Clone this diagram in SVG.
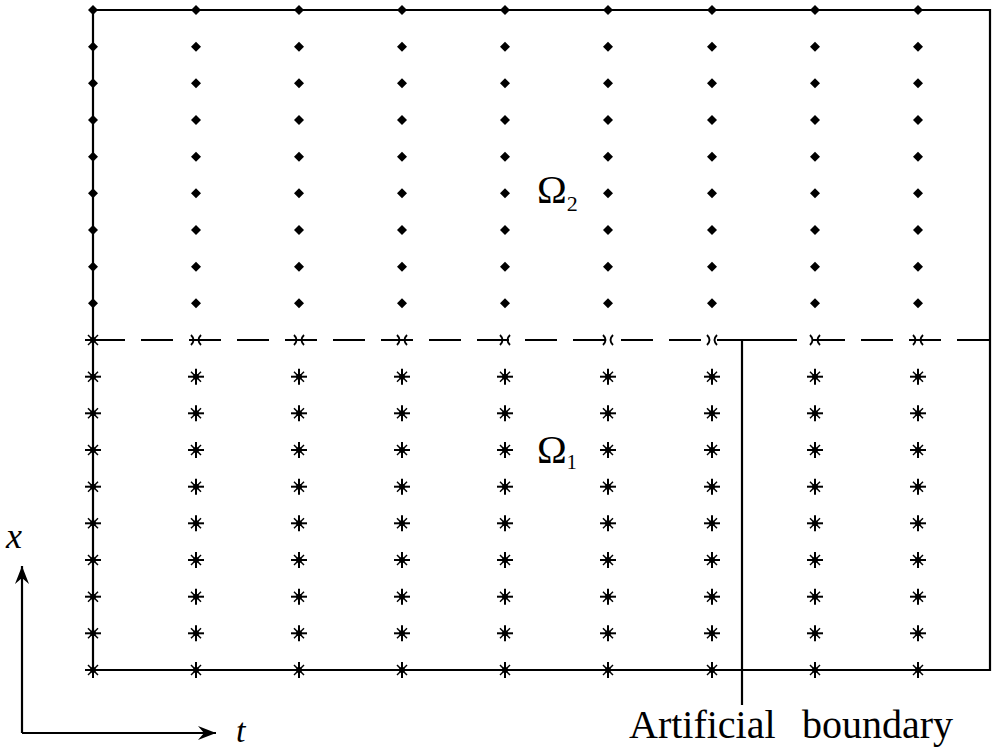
<svg xmlns="http://www.w3.org/2000/svg" width="996" height="752" viewBox="0 0 996 752">
<defs>
<style>
.ln{fill:none;stroke:#000;stroke-width:2.2}
.dash{fill:none;stroke:#000;stroke-width:2.2;stroke-dasharray:32 16}
.t{font-family:"Liberation Serif","Times New Roman",serif;fill:#000}
</style>
<path id="dia" d="M0,-5 L5,0 L0,5 L-5,0 Z" fill="#000"/>
<g id="ast" stroke="#000" stroke-width="2" fill="none">
<line x1="-8" y1="0" x2="8" y2="0"/>
<line x1="0" y1="-8" x2="0" y2="8"/>
<line x1="-5" y1="-5" x2="5" y2="5" stroke-width="1.5"/>
<line x1="-5" y1="5" x2="5" y2="-5" stroke-width="1.5"/>
<circle r="3" fill="#000" stroke="none"/>
</g>
<g id="xm" stroke="#000" stroke-width="1.8" fill="none">
<path d="M-5,-5 Q0,0 -5,5 M5,-5 Q0,0 5,5"/>
</g>
<marker id="arr" markerWidth="22" markerHeight="16" refX="18" refY="8" orient="auto" markerUnits="userSpaceOnUse">
<path d="M0,1 L18,8 L0,15 L6,8 Z" fill="#000"/>
</marker>
</defs>
<rect width="996" height="752" fill="#fff"/>
<g id="connectors">
<path class="ln" d="M93,10 H990 V670 H93 Z"/>
<line class="dash" x1="93" y1="340" x2="990" y2="340"/>
<path class="ln" d="M742,705 V340 H783"/>
<line class="ln" x1="22" y1="733" x2="22" y2="566" marker-end="url(#arr)"/>
<line class="ln" x1="22" y1="733" x2="216" y2="733" marker-end="url(#arr)"/>
</g>
<g id="grid-upper">
<use href="#dia" x="93" y="10"/><use href="#dia" x="196" y="10"/><use href="#dia" x="299" y="10"/><use href="#dia" x="402" y="10"/><use href="#dia" x="505" y="10"/><use href="#dia" x="608" y="10"/><use href="#dia" x="712" y="10"/><use href="#dia" x="815" y="10"/><use href="#dia" x="918" y="10"/>
<use href="#dia" x="93" y="46.7"/><use href="#dia" x="196" y="46.7"/><use href="#dia" x="299" y="46.7"/><use href="#dia" x="402" y="46.7"/><use href="#dia" x="505" y="46.7"/><use href="#dia" x="608" y="46.7"/><use href="#dia" x="712" y="46.7"/><use href="#dia" x="815" y="46.7"/><use href="#dia" x="918" y="46.7"/>
<use href="#dia" x="93" y="83.3"/><use href="#dia" x="196" y="83.3"/><use href="#dia" x="299" y="83.3"/><use href="#dia" x="402" y="83.3"/><use href="#dia" x="505" y="83.3"/><use href="#dia" x="608" y="83.3"/><use href="#dia" x="712" y="83.3"/><use href="#dia" x="815" y="83.3"/><use href="#dia" x="918" y="83.3"/>
<use href="#dia" x="93" y="120"/><use href="#dia" x="196" y="120"/><use href="#dia" x="299" y="120"/><use href="#dia" x="402" y="120"/><use href="#dia" x="505" y="120"/><use href="#dia" x="608" y="120"/><use href="#dia" x="712" y="120"/><use href="#dia" x="815" y="120"/><use href="#dia" x="918" y="120"/>
<use href="#dia" x="93" y="156.7"/><use href="#dia" x="196" y="156.7"/><use href="#dia" x="299" y="156.7"/><use href="#dia" x="402" y="156.7"/><use href="#dia" x="505" y="156.7"/><use href="#dia" x="608" y="156.7"/><use href="#dia" x="712" y="156.7"/><use href="#dia" x="815" y="156.7"/><use href="#dia" x="918" y="156.7"/>
<use href="#dia" x="93" y="193.3"/><use href="#dia" x="196" y="193.3"/><use href="#dia" x="299" y="193.3"/><use href="#dia" x="402" y="193.3"/><use href="#dia" x="505" y="193.3"/><use href="#dia" x="608" y="193.3"/><use href="#dia" x="712" y="193.3"/><use href="#dia" x="815" y="193.3"/><use href="#dia" x="918" y="193.3"/>
<use href="#dia" x="93" y="230"/><use href="#dia" x="196" y="230"/><use href="#dia" x="299" y="230"/><use href="#dia" x="402" y="230"/><use href="#dia" x="505" y="230"/><use href="#dia" x="608" y="230"/><use href="#dia" x="712" y="230"/><use href="#dia" x="815" y="230"/><use href="#dia" x="918" y="230"/>
<use href="#dia" x="93" y="266.7"/><use href="#dia" x="196" y="266.7"/><use href="#dia" x="299" y="266.7"/><use href="#dia" x="402" y="266.7"/><use href="#dia" x="505" y="266.7"/><use href="#dia" x="608" y="266.7"/><use href="#dia" x="712" y="266.7"/><use href="#dia" x="815" y="266.7"/><use href="#dia" x="918" y="266.7"/>
<use href="#dia" x="93" y="303.3"/><use href="#dia" x="196" y="303.3"/><use href="#dia" x="299" y="303.3"/><use href="#dia" x="402" y="303.3"/><use href="#dia" x="505" y="303.3"/><use href="#dia" x="608" y="303.3"/><use href="#dia" x="712" y="303.3"/><use href="#dia" x="815" y="303.3"/><use href="#dia" x="918" y="303.3"/>
</g>
<g id="grid-interface">
<use href="#ast" x="93" y="340"/><use href="#xm" x="196" y="340"/><use href="#xm" x="299" y="340"/><use href="#xm" x="402" y="340"/><use href="#xm" x="505" y="340"/><use href="#xm" x="608" y="340"/><use href="#xm" x="712" y="340"/><use href="#xm" x="815" y="340"/><use href="#xm" x="918" y="340"/>
</g>
<g id="grid-lower">
<use href="#ast" x="93" y="376.7"/><use href="#ast" x="196" y="376.7"/><use href="#ast" x="299" y="376.7"/><use href="#ast" x="402" y="376.7"/><use href="#ast" x="505" y="376.7"/><use href="#ast" x="608" y="376.7"/><use href="#ast" x="712" y="376.7"/><use href="#ast" x="815" y="376.7"/><use href="#ast" x="918" y="376.7"/>
<use href="#ast" x="93" y="413.3"/><use href="#ast" x="196" y="413.3"/><use href="#ast" x="299" y="413.3"/><use href="#ast" x="402" y="413.3"/><use href="#ast" x="505" y="413.3"/><use href="#ast" x="608" y="413.3"/><use href="#ast" x="712" y="413.3"/><use href="#ast" x="815" y="413.3"/><use href="#ast" x="918" y="413.3"/>
<use href="#ast" x="93" y="450"/><use href="#ast" x="196" y="450"/><use href="#ast" x="299" y="450"/><use href="#ast" x="402" y="450"/><use href="#ast" x="505" y="450"/><use href="#ast" x="608" y="450"/><use href="#ast" x="712" y="450"/><use href="#ast" x="815" y="450"/><use href="#ast" x="918" y="450"/>
<use href="#ast" x="93" y="486.7"/><use href="#ast" x="196" y="486.7"/><use href="#ast" x="299" y="486.7"/><use href="#ast" x="402" y="486.7"/><use href="#ast" x="505" y="486.7"/><use href="#ast" x="608" y="486.7"/><use href="#ast" x="712" y="486.7"/><use href="#ast" x="815" y="486.7"/><use href="#ast" x="918" y="486.7"/>
<use href="#ast" x="93" y="523.3"/><use href="#ast" x="196" y="523.3"/><use href="#ast" x="299" y="523.3"/><use href="#ast" x="402" y="523.3"/><use href="#ast" x="505" y="523.3"/><use href="#ast" x="608" y="523.3"/><use href="#ast" x="712" y="523.3"/><use href="#ast" x="815" y="523.3"/><use href="#ast" x="918" y="523.3"/>
<use href="#ast" x="93" y="560"/><use href="#ast" x="196" y="560"/><use href="#ast" x="299" y="560"/><use href="#ast" x="402" y="560"/><use href="#ast" x="505" y="560"/><use href="#ast" x="608" y="560"/><use href="#ast" x="712" y="560"/><use href="#ast" x="815" y="560"/><use href="#ast" x="918" y="560"/>
<use href="#ast" x="93" y="596.7"/><use href="#ast" x="196" y="596.7"/><use href="#ast" x="299" y="596.7"/><use href="#ast" x="402" y="596.7"/><use href="#ast" x="505" y="596.7"/><use href="#ast" x="608" y="596.7"/><use href="#ast" x="712" y="596.7"/><use href="#ast" x="815" y="596.7"/><use href="#ast" x="918" y="596.7"/>
<use href="#ast" x="93" y="633.3"/><use href="#ast" x="196" y="633.3"/><use href="#ast" x="299" y="633.3"/><use href="#ast" x="402" y="633.3"/><use href="#ast" x="505" y="633.3"/><use href="#ast" x="608" y="633.3"/><use href="#ast" x="712" y="633.3"/><use href="#ast" x="815" y="633.3"/><use href="#ast" x="918" y="633.3"/>
<use href="#ast" x="93" y="670"/><use href="#ast" x="196" y="670"/><use href="#ast" x="299" y="670"/><use href="#ast" x="402" y="670"/><use href="#ast" x="505" y="670"/><use href="#ast" x="608" y="670"/><use href="#ast" x="712" y="670"/><use href="#ast" x="815" y="670"/><use href="#ast" x="918" y="670"/>
</g>
<g id="label-omega2"><text class="t" x="537" y="203" font-size="40">Ω<tspan font-size="22" dy="8">2</tspan></text></g>
<g id="label-omega1"><text class="t" x="537" y="463" font-size="40">Ω<tspan font-size="20" dy="6">1</tspan></text></g>
<g id="label-x"><text class="t" x="6" y="548" font-size="36" font-style="italic">x</text></g>
<g id="label-t"><text class="t" x="236" y="742" font-size="34" font-style="italic">t</text></g>
<g id="label-artificial"><text class="t" x="629" y="738" font-size="40">Artificial <tspan x="802">boundary</tspan></text></g>
</svg>
